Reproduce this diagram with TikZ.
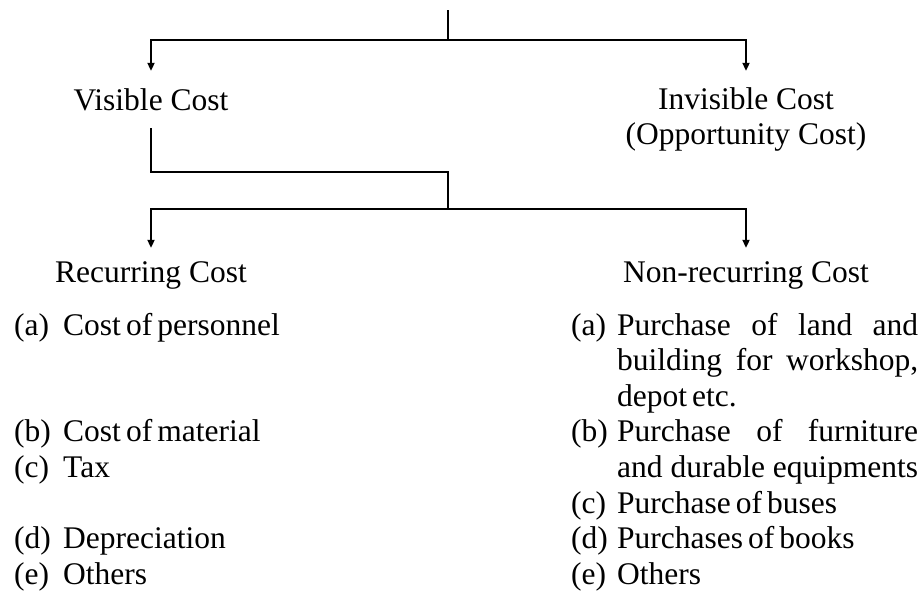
\documentclass[tikz,border=0pt]{standalone}
\usepackage{fontspec}
\setmainfont{Liberation Serif}
\usetikzlibrary{arrows.meta}
\newcommand\tightsp{\spaceskip=0.16em plus 1fil\relax}
\begin{document}
\begin{tikzpicture}[x=1pt,y=-1pt,
  lbl/.style={font=\fontsize{31.5}{35.6}\selectfont, inner sep=0pt, anchor=base, text height=22pt, text depth=0pt},
  item/.style={font=\fontsize{31.5}{35.6}\selectfont, execute at begin node=\tightsp, inner sep=0pt, anchor=base west},
  ln/.style={line width=2pt},
  arr/.style={ln,-{Triangle[length=8pt,width=7pt]}}]
\useasboundingbox (0,0) rectangle (922,590);
% tree
\coordinate (root) at (448,10);
\coordinate (j1) at (448,40);
\node[lbl] (vis) at (151,110) {Visible Cost};
\node[lbl] (inv) at (746,109) {Invisible Cost};
\node[lbl] (opp) at (746,144) {(Opportunity Cost)};
\coordinate (j2) at (448,172);
\coordinate (j3) at (448,209);
\node[lbl] (rec) at (151,282) {Recurring Cost};
\node[lbl] (non) at (746,282) {Non-recurring Cost};
\draw[ln] (root) -- (j1);
\draw[arr] (j1) -| ([yshift=17pt]vis.north);
\draw[arr] (j1) -| ([yshift=16pt]inv.north);
\draw[ln] ([yshift=-18pt]vis.south) |- (j2) -- (j3);
\draw[arr] (j3) -| ([yshift=12pt]rec.north);
\draw[arr] (j3) -| ([yshift=12pt]non.north);
% left list
\node[item] (la) at (14,335) {(a)};
\node[item] (lat) at (63,335) {Cost of personnel};
\node[item] (lb) at (14,441.8) {(b)};
\node[item] (lbt) at (63,441.8) {Cost of material};
\node[item] (lc) at (14,477.4) {(c)};
\node[item] (lct) at (63,477.4) {Tax};
\node[item] (ld) at (14,548.6) {(d)};
\node[item] (ldt) at (63,548.6) {Depreciation};
\node[item] (le) at (14,584.2) {(e)};
\node[item] (let) at (63,584.2) {Others};
% right list
\node[item] (ra) at (571,335) {(a)};
\node[item] (rat1) at (617,335) {\makebox[301pt][s]{Purchase of land and}};
\node[item] (rat2) at (617,370.6) {\makebox[301pt][s]{building for workshop,}};
\node[item] (rat3) at (617,406.2) {depot etc.};
\node[item] (rb) at (571,441.8) {(b)};
\node[item] (rbt1) at (617,441.8) {\makebox[301pt][s]{Purchase of furniture}};
\node[item] (rbt2) at (617,477.4) {\makebox[301pt][s]{and durable equipments}};
\node[item] (rc) at (571,513) {(c)};
\node[item] (rct) at (617,513) {Purchase of buses};
\node[item] (rd) at (571,548.6) {(d)};
\node[item] (rdt) at (617,548.6) {Purchases of books};
\node[item] (re) at (571,584.2) {(e)};
\node[item] (ret) at (617,584.2) {Others};
\end{tikzpicture}
\end{document}
